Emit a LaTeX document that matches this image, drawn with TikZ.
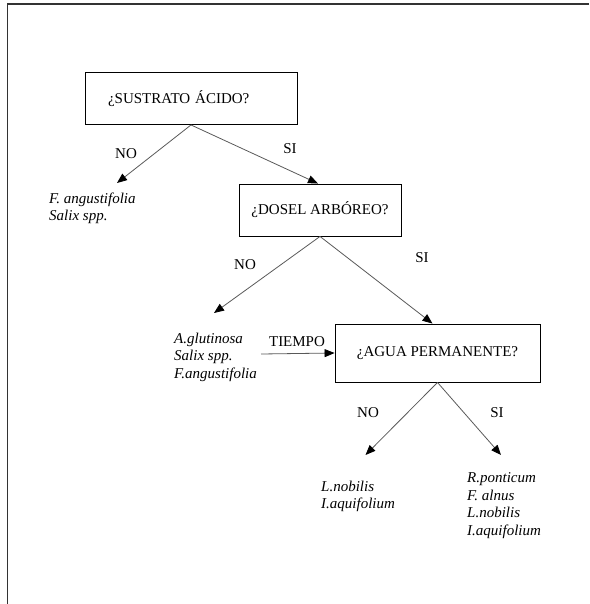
\documentclass[tikz,border=0pt]{standalone}
\usepackage{fontspec}
\setmainfont{Liberation Serif}
\usetikzlibrary{arrows.meta}

\tikzset{
	pregunta/.style={draw, line width=0.9pt, minimum height=52pt, inner sep=0pt},
	especies/.style={font=\itshape\fontsize{15}{17.5}\selectfont, align=left, inner sep=0pt, anchor=north west},
	flecha/.style={-{Triangle[length=10pt, width=8pt, color=black]}, draw=black!65, line width=0.8pt},
	rama/.style={inner sep=0pt}
}

\begin{document}
\begin{tikzpicture}[x=1pt, y=-1pt, font=\fontsize{15}{17.5}\selectfont]
			\useasboundingbox (0,0) rectangle (589,604);
			% marco de la pagina
			\draw[line width=1.2pt, black!80] (589,4) -- (7.5,4) -- (7.5,604);

			\node[pregunta, text width=166pt, inner xsep=23pt, align=left] (sustrato) at (191,98.5) {¿SUSTRATO ÁCIDO?};
			\node[pregunta, minimum width=162pt] (dosel) at (320,210) {¿DOSEL ARBÓREO?};
			\node[pregunta, minimum width=205pt, minimum height=58pt] (agua) at (437.5,353) {¿AGUA PERMANENTE?};

			\node[especies] (noAcido) at (49,192.5) {F. angustifolia\\Salix spp.};
			\node[especies] (sinDosel) at (174,332.5) {A.glutinosa\\Salix spp.\\F.angustifolia};
			\node[especies] (temporal) at (321,480.5) {L.nobilis\\I.aquifolium};
			\node[especies] (permanente) at (467,472.5) {R.ponticum\\F. alnus\\L.nobilis\\I.aquifolium};

			\coordinate (finNo1) at (117,183);
			\coordinate (finNo2) at (214,313);
			\coordinate (finNo3) at (365.5,455);
			\coordinate (finSi3) at (501,455);
			\coordinate (inicioTiempo) at (261,354);

			\node[rama] (no1) at (126,154) {NO};
			\node[rama] (si1) at (290,149) {SI};
			\node[rama] (no2) at (245,265) {NO};
			\node[rama] (si2) at (422,258) {SI};
			\node[rama] (tiempo) at (297,342) {TIEMPO};
			\node[rama] (no3) at (368,413) {NO};
			\node[rama] (si3) at (497,413) {SI};

			\path
				(sustrato.south) edge[flecha] (finNo1)
				(sustrato.south) edge[flecha] ([xshift=-2pt]dosel.north)
				(dosel.south) edge[flecha] (finNo2)
				(dosel.south) edge[flecha] ([xshift=-5pt]agua.north)
				(inicioTiempo) edge[flecha] (agua.west)
				(agua.south) edge[flecha] (finNo3)
				(agua.south) edge[flecha] (finSi3)
			;
		\end{tikzpicture}
\end{document}
